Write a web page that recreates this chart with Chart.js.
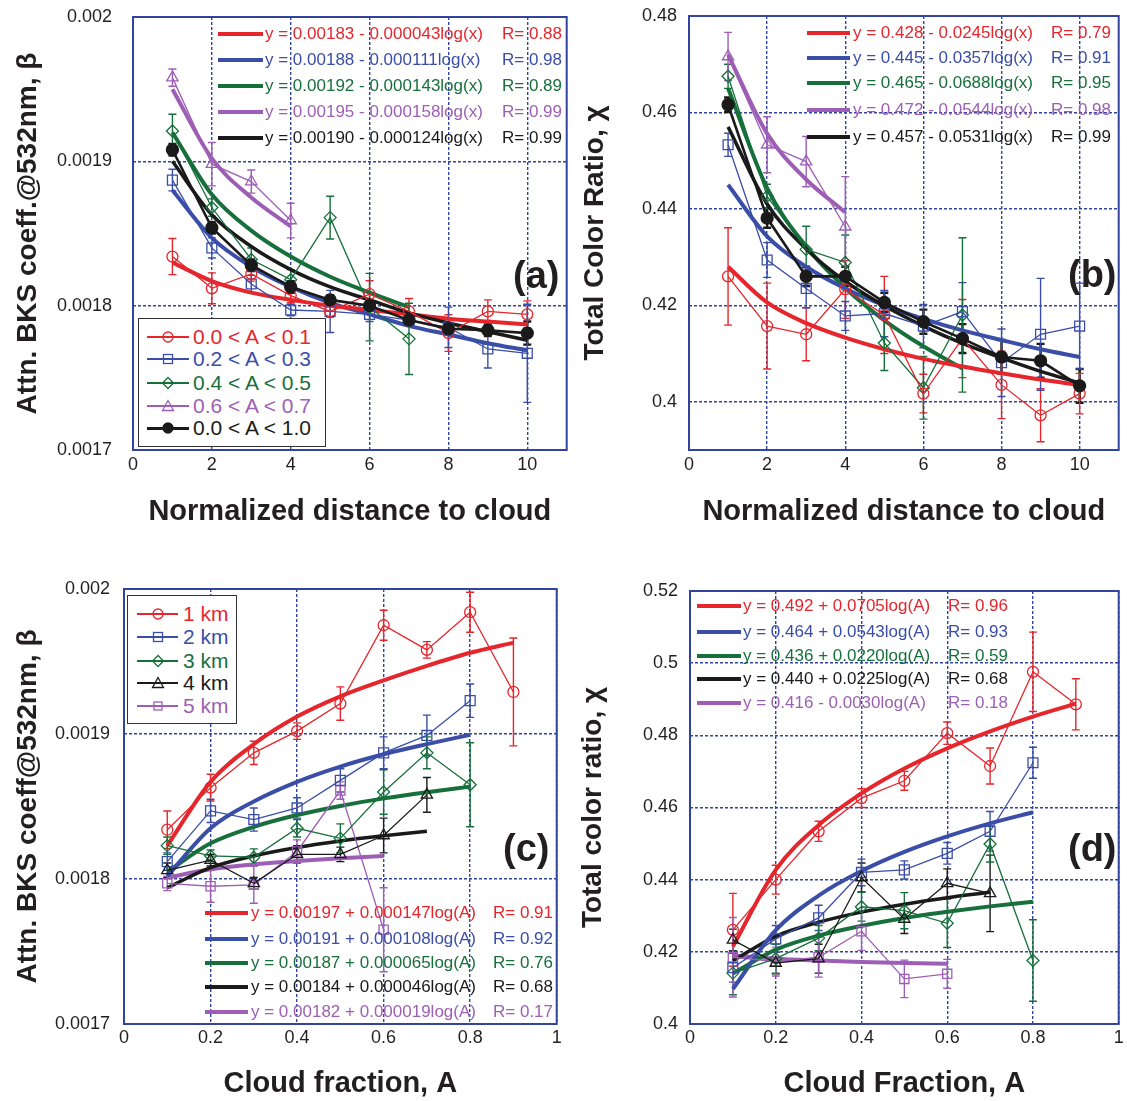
<!DOCTYPE html>
<html>
<head>
<meta charset="utf-8">
<script src="https://cdn.jsdelivr.net/npm/chart.js@4.4.0/dist/chart.umd.min.js"></script>
<style>
  body { margin: 0; background: #fff; width: 1127px; height: 1101px; position: relative; overflow: hidden;
         font-family: 'Liberation Sans', Arial, Helvetica, sans-serif; }
  canvas { position: absolute; }
  .lbl { position: absolute; white-space: nowrap; }
  .bar { position: absolute; }
  .box { position: absolute; border: 1.5px solid #333; background: #fff; box-sizing: border-box; }
  .tag { position: absolute; font-weight: bold; font-size: 38px; line-height: 40px; color: #231f20; }
</style>
</head>
<body>
<canvas id="pa" width="575" height="550" style="left:0;top:0"></canvas>
<canvas id="pb" width="562" height="550" style="left:565px;top:0"></canvas>
<canvas id="pc" width="565" height="541" style="left:0;top:560px"></canvas>
<canvas id="pd" width="562" height="541" style="left:565px;top:560px"></canvas>
<script>
// ---- panels (a) and (b): x = normalized distance to cloud
const distX = [1, 2, 3, 4, 5, 6, 7, 8, 9, 10];

const betaRed = [0.001834, 0.001812, 0.001822, 0.001807, 0.001796, 0.001808, 0.001796, 0.001781, 0.001796, 0.001794];
const betaRedErr = [0.0000125, 0.0000107, 0.000005, 0.000005, 0.000004, 0.0000093, 0.000009, 0.0000127, 0.000008, 0.0000093];
const betaBlue = [0.001887, 0.00184, 0.001815, 0.001797, 0.001796, 0.001794, 0.00179, 0.001785, 0.00177, 0.001767];
const betaBlueErr = [0.0000075, 0.000007, 0.000006, 0.000004, 0.0000146, 0.000005, 0.000004, 0.000014, 0.0000132, 0.000034];
const betaGreen = [0.001921, 0.001868, 0.001832, 0.001818, 0.001861, 0.001799, 0.001777];
const betaGreenErr = [0.0000116, 0.000006, 0.000008, 0.000007, 0.0000148, 0.0000234, 0.0000247];
const betaPurple = [0.001958, 0.001898, 0.001886, 0.001859];
const betaPurpleErr = [0.000006, 0.000015, 0.000008, 0.000012];
const betaAll = [0.001908, 0.001854, 0.001828, 0.001813, 0.001804, 0.0018, 0.00179, 0.001784, 0.001783, 0.001781];
const betaAllErr = [0.000004, 0.000004, 0.000004, 0.000004, 0.000003, 0.000003, 0.000004, 0.000004, 0.000004, 0.000008];

const betaRedFit = [0.00183, 0.001817, 0.001809, 0.001804, 0.0018, 0.001797, 0.001794, 0.001791, 0.001789, 0.001787];
const betaBlueFit = [0.00188, 0.001847, 0.001827, 0.001813, 0.001802, 0.001794, 0.001786, 0.00178, 0.001774, 0.001769];
const betaGreenFit = [0.00192, 0.001877, 0.001852, 0.001834, 0.00182, 0.001809, 0.001799];
const betaPurpleFit = [0.00195, 0.001902, 0.001875, 0.001855];
const betaAllFit = [0.0019, 0.001863, 0.001841, 0.001825, 0.001813, 0.001804, 0.001795, 0.001788, 0.001782, 0.001776];

const chiRed = [0.426, 0.4157, 0.414, 0.4233, 0.418, 0.4017, 0.4131, 0.4035, 0.3972, 0.4017];
const chiRedErr = [0.0101, 0.0089, 0.0055, 0.006, 0.008, 0.004, 0.0081, 0.007, 0.0055, 0.0042];
const chiBlue = [0.4533, 0.4294, 0.4235, 0.4178, 0.4183, 0.4157, 0.4187, 0.4081, 0.414, 0.4157];
const chiBlueErr = [0.0024, 0.0036, 0.004, 0.003, 0.0048, 0.0045, 0.006, 0.007, 0.0116, 0.0089];
const chiGreen = [0.4675, 0.4426, 0.4316, 0.4289, 0.4122, 0.4029, 0.418];
const chiGreenErr = [0.0025, 0.0025, 0.0048, 0.0057, 0.0057, 0.0065, 0.016];
const chiPurple = [0.4716, 0.4533, 0.4498, 0.4363];
const chiPurpleErr = [0.005, 0.0058, 0.0052, 0.0104];
const chiAll = [0.4616, 0.4381, 0.426, 0.426, 0.4206, 0.4166, 0.4131, 0.4093, 0.4085, 0.4033];
const chiAllErr = [0.0015, 0.002, 0.002, 0.002, 0.002, 0.0025, 0.003, 0.0035, 0.0035, 0.0035];

const chiRedFit = [0.428, 0.4206, 0.4163, 0.4133, 0.4109, 0.4089, 0.4073, 0.4059, 0.4046, 0.4035];
const chiBlueFit = [0.445, 0.4343, 0.428, 0.4235, 0.42, 0.4172, 0.4148, 0.4128, 0.4109, 0.4093];
const chiGreenFit = [0.465, 0.4443, 0.4322, 0.4236, 0.4169, 0.4115, 0.4069];
const chiPurpleFit = [0.472, 0.4556, 0.4461, 0.4393];
const chiAllFit = [0.457, 0.441, 0.4317, 0.425, 0.4199, 0.4157, 0.4121, 0.4091, 0.4063, 0.4039];

// ---- panels (c) and (d): x = cloud fraction A
const fracX = [0.1, 0.2, 0.3, 0.4, 0.5, 0.6, 0.7, 0.8, 0.9];

const bKm1 = [0.001834, 0.001863, 0.001887, 0.001902, 0.001921, 0.001975, 0.001958, 0.001984, 0.001929];
const bKm1Err = [0.0000129, 0.0000092, 0.000008, 0.0000057, 0.0000115, 0.0000103, 0.0000057, 0.0000138, 0.0000372];
const bKm2 = [0.001812, 0.001847, 0.001841, 0.001849, 0.001868, 0.001887, 0.001899, 0.001923];
const bKm2Err = [0.000006, 0.000008, 0.000008, 0.000007, 0.000008, 0.000011, 0.000014, 0.0000115];
const bKm3 = [0.001823, 0.001816, 0.001815, 0.001835, 0.001828, 0.00186, 0.001887, 0.001865];
const bKm3Err = [0.000006, 0.000004, 0.0000058, 0.000006, 0.00001, 0.0000153, 0.000011, 0.000029];
const bKm4 = [0.001806, 0.001813, 0.001797, 0.001817, 0.001817, 0.00183, 0.001858];
const bKm4Err = [0.000005, 0.000004, 0.000004, 0.000006, 0.000005, 0.000012, 0.000012];
const bKm5 = [0.001797, 0.001795, 0.001796, 0.001819, 0.001861, 0.001765];
const bKm5Err = [0.000005, 0.000011, 0.0000127, 0.000008, 0.000006, 0.000029];

const bKm1Fit = [0.001823, 0.001867, 0.001893, 0.001912, 0.001926, 0.001937, 0.001947, 0.001956, 0.001963];
const bKm2Fit = [0.001802, 0.001835, 0.0018535, 0.001867, 0.0018775, 0.001886, 0.001893, 0.0018995];
const bKm3Fit = [0.001805, 0.0018246, 0.001836, 0.0018441, 0.0018504, 0.0018556, 0.0018599, 0.0018637];
const bKm4Fit = [0.001794, 0.0018078, 0.0018159, 0.0018217, 0.0018262, 0.0018298, 0.0018329];
const bKm5Fit = [0.001801, 0.0018067, 0.0018101, 0.0018124, 0.0018143, 0.0018158];

const xKm1 = [0.4261, 0.44, 0.4534, 0.4626, 0.4674, 0.4806, 0.4715, 0.4976, 0.4886];
const xKm1Err = [0.0101, 0.004, 0.0028, 0.0026, 0.0026, 0.0031, 0.005, 0.011, 0.0071];
const xKm2 = [0.4156, 0.4236, 0.4294, 0.442, 0.4427, 0.4473, 0.4534, 0.4724];
const xKm2Err = [0.004, 0.0037, 0.0035, 0.0037, 0.0025, 0.003, 0.0055, 0.0043];
const xKm3 = [0.4141, 0.4181, 0.4238, 0.4325, 0.4314, 0.4279, 0.4499, 0.4176];
const xKm3Err = [0.006, 0.004, 0.0035, 0.004, 0.005, 0.0067, 0.005, 0.0113];
const xKm4 = [0.4233, 0.4169, 0.4181, 0.4406, 0.4291, 0.439, 0.4362];
const xKm4Err = [0.003, 0.003, 0.004, 0.004, 0.004, 0.004, 0.0106];
const xKm5 = [0.4185, 0.4173, 0.4185, 0.4257, 0.4125, 0.4139];
const xKm5Err = [0.011, 0.004, 0.0055, 0.0053, 0.0052, 0.004];

const xKm1Fit = [0.4215, 0.4427, 0.4551, 0.4639, 0.4708, 0.4764, 0.4811, 0.4852, 0.4888];
const xKm2Fit = [0.4097, 0.426, 0.4356, 0.4424, 0.4477, 0.452, 0.4556, 0.4587];
const xKm3Fit = [0.414, 0.4206, 0.4245, 0.4272, 0.4294, 0.4311, 0.4326, 0.4339];
const xKm4Fit = [0.4175, 0.4243, 0.4282, 0.431, 0.4332, 0.435, 0.4365];
const xKm5Fit = [0.419, 0.4181, 0.4176, 0.4172, 0.4169, 0.4167];

// ---- ticks
const ticksDist = [0, 2, 4, 6, 8, 10];
const ticksFrac = [0, 0.2, 0.4, 0.6, 0.8, 1];
const ticksBeta = [0.0017, 0.0018, 0.0019, 0.002];
const ticksChiB = [0.4, 0.42, 0.44, 0.46, 0.48];
const ticksChiD = [0.4, 0.42, 0.44, 0.46, 0.48, 0.5, 0.52];

// ---- texts
const rangeNames = ['0.0 < A < 0.1', '0.2 < A < 0.3', '0.4 < A < 0.5', '0.6 < A < 0.7', '0.0 < A < 1.0'];
const kmNames = ['1 km', '2 km', '3 km', '4 km', '5 km'];
const eqA = ['y = 0.00183 - 0.000043log(x)', 'y = 0.00188 - 0.000111log(x)', 'y = 0.00192 - 0.000143log(x)', 'y = 0.00195 - 0.000158log(x)', 'y = 0.00190 - 0.000124log(x)'];
const rA = ['R= 0.88', 'R= 0.98', 'R= 0.89', 'R= 0.99', 'R= 0.99'];
const eqB = ['y = 0.428 - 0.0245log(x)', 'y = 0.445 - 0.0357log(x)', 'y = 0.465 - 0.0688log(x)', 'y = 0.472 - 0.0544log(x)', 'y = 0.457 - 0.0531log(x)'];
const rB = ['R= 0.79', 'R= 0.91', 'R= 0.95', 'R= 0.98', 'R= 0.99'];
const eqC = ['y = 0.00197 + 0.000147log(A)', 'y = 0.00191 + 0.000108log(A)', 'y = 0.00187 + 0.000065log(A)', 'y = 0.00184 + 0.000046log(A)', 'y = 0.00182 + 0.000019log(A)'];
const rC = ['R= 0.91', 'R= 0.92', 'R= 0.76', 'R= 0.68', 'R= 0.17'];
const eqD = ['y = 0.492 + 0.0705log(A)', 'y = 0.464 + 0.0543log(A)', 'y = 0.436 + 0.0220log(A)', 'y = 0.440 + 0.0225log(A)', 'y = 0.416 - 0.0030log(A)'];
const rD = ['R= 0.96', 'R= 0.93', 'R= 0.59', 'R= 0.68', 'R= 0.18'];

const RED = '#e5262c', BLUE = '#3a4ea8', GREEN = '#17703b', PURPLE = '#9d5fb5', BLACK = '#1a1a1a';
const GRID = '#33449e', INK = '#231f20';
const FAMILY = "'Liberation Sans', Arial, Helvetica, sans-serif";

const fmt = v => String(Math.round(v * 1e6) / 1e6);

// vertical error bars with caps, drawn through the chart's own scales
const errorBars = {
  id: 'errorBars',
  beforeDatasetsDraw(chart) {
    const { ctx, scales: { x, y } } = chart;
    chart.data.datasets.forEach(ds => {
      if (!ds.errors) return;
      ctx.save();
      ctx.strokeStyle = ds.borderColor;
      ctx.lineWidth = ds.errWidth || 1.4;
      ds.data.forEach((p, i) => {
        const e = ds.errors[i];
        if (!e) return;
        const px = x.getPixelForValue(p.x);
        const y1 = y.getPixelForValue(p.y + e), y2 = y.getPixelForValue(p.y - e);
        ctx.beginPath();
        ctx.moveTo(px, y1); ctx.lineTo(px, y2);
        ctx.moveTo(px - 4, y1); ctx.lineTo(px + 4, y1);
        ctx.moveTo(px - 4, y2); ctx.lineTo(px + 4, y2);
        ctx.stroke();
      });
      ctx.restore();
    });
  }
};

const frame = {
  id: 'frame',
  beforeDatasetsDraw(chart) {
    const { ctx, chartArea: a } = chart;
    ctx.save();
    ctx.strokeStyle = GRID;
    ctx.lineWidth = 2;
    ctx.strokeRect(a.left, a.top, a.right - a.left, a.bottom - a.top);
    ctx.restore();
  }
};

function dataSeries(xs, ys, errs, color, style, extra = {}) {
  return Object.assign({
    data: ys.map((y, i) => ({ x: xs[i], y })),
    errors: errs,
    borderColor: color, borderWidth: 1.3,
    pointStyle: style, pointRadius: 5.5,
    pointBorderColor: color, pointBorderWidth: 1.3,
    pointBackgroundColor: 'rgba(255,255,255,0)',
    tension: 0, order: 0
  }, extra);
}

function fitSeries(xs, ys, color, w = 4) {
  return {
    data: ys.map((y, i) => ({ x: xs[i], y })),
    borderColor: color, borderWidth: w, pointRadius: 0,
    cubicInterpolationMode: 'monotone', order: 1
  };
}

function makeChart(id, p) {
  return new Chart(document.getElementById(id), {
    type: 'line',
    data: { datasets: p.datasets },
    options: {
      responsive: false, animation: false, events: [],
      layout: { padding: p.pad },
      plugins: { legend: { display: false }, tooltip: { enabled: false } },
      scales: {
        x: {
          type: 'linear', min: p.xMin, max: p.xMax,
          afterBuildTicks: s => { s.ticks = p.xTicks.map(v => ({ value: v })); },
          afterFit: s => { s.height = p.xH; s.paddingLeft = 0; s.paddingRight = 0; },
          grid: { color: GRID, lineWidth: 1.4, drawTicks: false },
          border: { display: false, dash: [3, 2] },
          ticks: { color: INK, font: { size: 18, family: FAMILY }, padding: p.xTickPad, maxRotation: 0, callback: fmt },
          title: { display: true, text: p.xTitle, color: INK, font: { size: 29, weight: 'bold', family: FAMILY }, padding: { top: 0, bottom: p.xTitlePad } }
        },
        y: {
          type: 'linear', min: p.yMin, max: p.yMax,
          afterBuildTicks: s => { s.ticks = p.yTicks.map(v => ({ value: v })); },
          afterFit: s => { s.width = p.yW; s.paddingTop = 0; s.paddingBottom = 0; },
          grid: { color: GRID, lineWidth: 1.4, drawTicks: false },
          border: { display: false, dash: [3, 2] },
          ticks: { color: INK, font: { size: 18, family: FAMILY }, padding: p.yTickPad, callback: fmt },
          title: { display: true, text: p.yTitle, color: INK, font: { size: 28, weight: 'bold', family: FAMILY }, padding: { top: p.yTitlePad, bottom: 0 } }
        }
      }
    },
    plugins: [frame, errorBars]
  });
}

const black = { pointBackgroundColor: BLACK, borderWidth: 2.6, pointRadius: 6, errWidth: 2.4 };

makeChart('pa', {
  pad: { left: 0, top: 17, right: 7, bottom: 0 }, xH: 100, yW: 133,
  xMin: 0, xMax: 11, xTicks: ticksDist, yMin: 0.0017, yMax: 0.002, yTicks: ticksBeta,
  xTickPad: 4, yTickPad: 21, xTitlePad: 21, yTitlePad: 11,
  xTitle: 'Normalized distance to cloud', yTitle: 'Attn. BKS coeff.@532nm, β',
  datasets: [
    dataSeries(distX, betaAll, betaAllErr, BLACK, 'circle', black),
    dataSeries(distX, betaRed, betaRedErr, RED, 'circle'),
    dataSeries(distX, betaBlue, betaBlueErr, BLUE, 'rect', { pointRadius: 7 }),
    dataSeries(distX, betaGreen, betaGreenErr, GREEN, 'rectRot', { pointRadius: 6 }),
    dataSeries(distX, betaPurple, betaPurpleErr, PURPLE, 'triangle', { pointRadius: 6.5 }),
    fitSeries(distX, betaAllFit, BLACK, 3.5),
    fitSeries(distX, betaRedFit, RED),
    fitSeries(distX, betaBlueFit, BLUE),
    fitSeries(distX, betaGreenFit, GREEN),
    fitSeries(distX, betaPurpleFit, PURPLE)
  ]
});

makeChart('pb', {
  pad: { left: 0, top: 16, right: 4, bottom: 0 }, xH: 100, yW: 124,
  xMin: 0, xMax: 11, xTicks: ticksDist, yMin: 0.39, yMax: 0.48, yTicks: ticksChiB,
  xTickPad: 4, yTickPad: 12, xTitlePad: 21, yTitlePad: 13,
  xTitle: 'Normalized distance to cloud', yTitle: 'Total Color Ratio, χ',
  datasets: [
    dataSeries(distX, chiAll, chiAllErr, BLACK, 'circle', black),
    dataSeries(distX, chiRed, chiRedErr, RED, 'circle'),
    dataSeries(distX, chiBlue, chiBlueErr, BLUE, 'rect', { pointRadius: 7 }),
    dataSeries(distX, chiGreen, chiGreenErr, GREEN, 'rectRot', { pointRadius: 6 }),
    dataSeries(distX, chiPurple, chiPurpleErr, PURPLE, 'triangle', { pointRadius: 6.5 }),
    fitSeries(distX, chiAllFit, BLACK, 3.5),
    fitSeries(distX, chiRedFit, RED),
    fitSeries(distX, chiBlueFit, BLUE),
    fitSeries(distX, chiGreenFit, GREEN),
    fitSeries(distX, chiPurpleFit, PURPLE)
  ]
});

makeChart('pc', {
  pad: { left: 0, top: 29, right: 8, bottom: 0 }, xH: 77, yW: 124,
  xMin: 0, xMax: 1, xTicks: ticksFrac, yMin: 0.0017, yMax: 0.002, yTicks: ticksBeta,
  xTickPad: 3, yTickPad: 14, xTitlePad: 0, yTitlePad: 11,
  xTitle: 'Cloud fraction, A', yTitle: 'Attn. BKS coeff@532nm, β',
  datasets: [
    dataSeries(fracX, bKm4, bKm4Err, BLACK, 'triangle', { pointRadius: 6.5 }),
    dataSeries(fracX, bKm1, bKm1Err, RED, 'circle'),
    dataSeries(fracX, bKm2, bKm2Err, BLUE, 'rect', { pointRadius: 7 }),
    dataSeries(fracX, bKm3, bKm3Err, GREEN, 'rectRot', { pointRadius: 6 }),
    dataSeries(fracX, bKm5, bKm5Err, PURPLE, 'rect', { pointRadius: 6.5 }),
    fitSeries(fracX, bKm1Fit, RED),
    fitSeries(fracX, bKm2Fit, BLUE),
    fitSeries(fracX, bKm3Fit, GREEN),
    fitSeries(fracX, bKm4Fit, BLACK, 3.5),
    fitSeries(fracX, bKm5Fit, PURPLE)
  ]
});

makeChart('pd', {
  pad: { left: 0, top: 31, right: 3, bottom: 0 }, xH: 77, yW: 125,
  xMin: 0, xMax: 1, xTicks: ticksFrac, yMin: 0.4, yMax: 0.52, yTicks: ticksChiD,
  xTickPad: 3, yTickPad: 12, xTitlePad: 0, yTitlePad: 11,
  xTitle: 'Cloud Fraction, A', yTitle: 'Total color ratio, χ',
  datasets: [
    dataSeries(fracX, xKm4, xKm4Err, BLACK, 'triangle', { pointRadius: 6.5 }),
    dataSeries(fracX, xKm1, xKm1Err, RED, 'circle'),
    dataSeries(fracX, xKm2, xKm2Err, BLUE, 'rect', { pointRadius: 7 }),
    dataSeries(fracX, xKm3, xKm3Err, GREEN, 'rectRot', { pointRadius: 6 }),
    dataSeries(fracX, xKm5, xKm5Err, PURPLE, 'rect', { pointRadius: 6.5 }),
    fitSeries(fracX, xKm1Fit, RED),
    fitSeries(fracX, xKm2Fit, BLUE),
    fitSeries(fracX, xKm3Fit, GREEN),
    fitSeries(fracX, xKm4Fit, BLACK, 3.5),
    fitSeries(fracX, xKm5Fit, PURPLE)
  ]
});

// ---- legends and panel tags (HTML overlays)
const COLORS = [RED, BLUE, GREEN, PURPLE, BLACK];
const KM_COLORS = [RED, BLUE, GREEN, BLACK, PURPLE];

function el(cls, css, text) {
  const d = document.createElement('div');
  d.className = cls;
  Object.assign(d.style, css);
  if (text) d.textContent = text;
  document.body.appendChild(d);
  return d;
}

function label(x, y, text, color, size) {
  el('lbl', { left: x + 'px', top: (y - 10) + 'px', fontSize: size + 'px', lineHeight: '20px', color }, text);
}

function fitLegend(lx, lw, tx, rx, ys, texts, rs, colors) {
  ys.forEach((y, i) => {
    el('bar', { left: lx + 'px', top: (y - 2) + 'px', width: lw + 'px', height: '4px', background: colors[i] });
    label(tx, y, texts[i], colors[i], 17);
    label(rx, y, rs[i], colors[i], 17);
  });
}

function markerSvg(style, color) {
  const fill = style === 'dot' ? color : 'none';
  let s;
  if (style === 'circle' || style === 'dot') s = `<circle cx="8" cy="8" r="5" />`;
  else if (style === 'rect') s = `<rect x="3.5" y="3.5" width="9" height="9" />`;
  else if (style === 'small') s = `<rect x="4" y="4" width="8" height="8" /><line x1="4" y1="8" x2="12" y2="8" />`;
  else if (style === 'diamond') s = `<path d="M8 2.5 L13.5 8 L8 13.5 L2.5 8 Z" />`;
  else s = `<path d="M8 2.5 L13.5 12.5 L2.5 12.5 Z" />`;
  return `<svg width="16" height="16" viewBox="0 0 16 16" style="position:absolute;left:0;top:0">` +
    `<g fill="${fill}" stroke="${color}" stroke-width="1.3">${s}</g></svg>`;
}

function markerLegend(box, lx, lw, tx, ys, texts, colors, styles) {
  el('box', box);
  ys.forEach((y, i) => {
    el('bar', { left: lx + 'px', top: (y - 0.7) + 'px', width: lw + 'px', height: (styles[i] === 'dot' ? 2.4 : 1.3) + 'px', background: colors[i] });
    const m = el('bar', { left: (lx + lw / 2 - 8) + 'px', top: (y - 8) + 'px', width: '16px', height: '16px' });
    m.innerHTML = markerSvg(styles[i], colors[i]);
    label(tx, y, texts[i], colors[i], 21);
  });
}

fitLegend(218, 45, 265, 502, [34, 60, 86, 112, 138], eqA, rA, COLORS);
fitLegend(807, 43, 853, 1051, [33, 58, 83, 110, 137], eqB, rB, COLORS);
fitLegend(205, 43, 251, 493, [913, 939, 963, 987, 1012], eqC, rC, KM_COLORS);
fitLegend(697, 44, 743, 948, [606, 632, 656, 679, 703], eqD, rD, KM_COLORS);

markerLegend({ left: '138px', top: '318px', width: '188px', height: '129px' }, 147, 42, 193,
  [337, 359, 383, 406, 428], rangeNames, COLORS, ['circle', 'rect', 'diamond', 'triangle', 'dot']);
markerLegend({ left: '127px', top: '595px', width: '110px', height: '129px' }, 137, 41, 183,
  [614, 637, 661, 683, 706], kmNames, KM_COLORS, ['circle', 'rect', 'diamond', 'triangle', 'small']);

el('tag', { left: '513px', top: '255px' }, '(a)');
el('tag', { left: '1068px', top: '254px' }, '(b)');
el('tag', { left: '503px', top: '828px' }, '(c)');
el('tag', { left: '1068px', top: '828px' }, '(d)');
</script>
</body>
</html>
